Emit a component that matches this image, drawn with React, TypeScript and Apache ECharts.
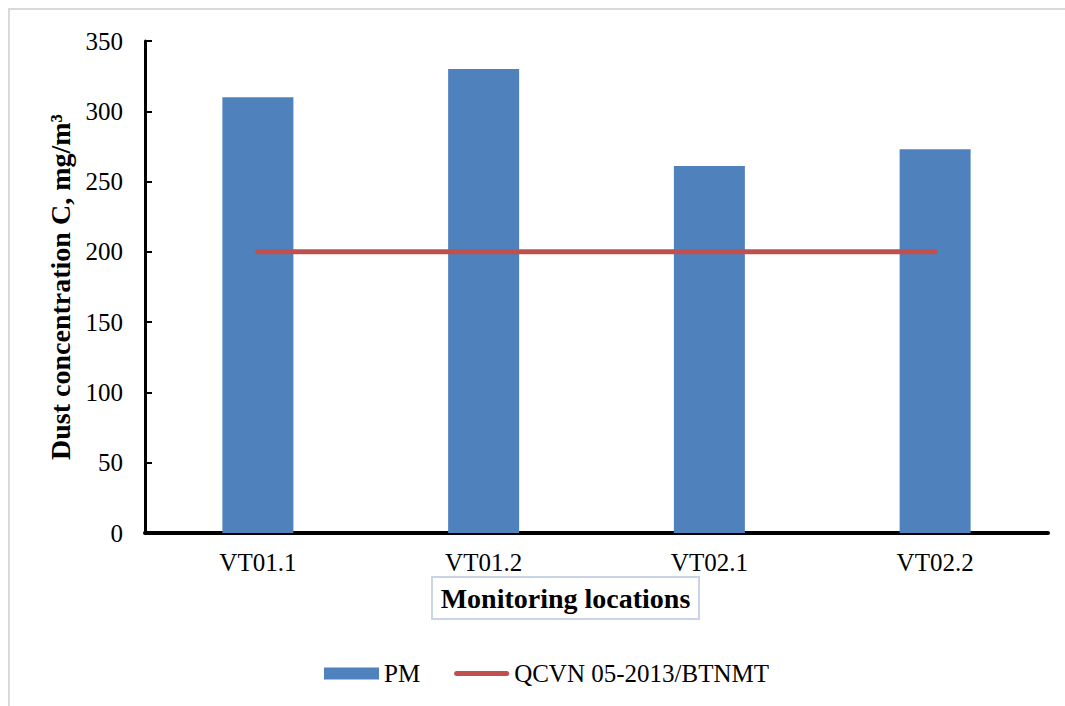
import React, { useEffect, useRef } from "react";
import * as echarts from "echarts";

const categories = ["VT01.1", "VT01.2", "VT02.1", "VT02.2"];
const pmValues = [310, 330, 261, 273];
const standardValues = [200, 200, 200, 200];
const seriesNames = ["PM", "QCVN 05-2013/BTNMT"];

const FONT = "'Liberation Serif', 'Times New Roman', serif";
const LINE_ICON = "path://M2.5,0 L52.5,0 A2.5,2.5 0 0 1 52.5,5 L2.5,5 A2.5,2.5 0 0 1 2.5,0 Z";

export default function App() {
  const ref = useRef<HTMLDivElement>(null);
  useEffect(() => {
    document.body.style.margin = "0";
    const chart = echarts.init(ref.current!, null, { renderer: "svg" });
    chart.setOption({
      animation: false,
      backgroundColor: "#ffffff",
      textStyle: { fontFamily: FONT, color: "#000" },
      grid: { left: 145, right: 17, top: 41, bottom: 173, containLabel: false },
      legend: {
        left: 324,
        top: 661,
        padding: 0,
        itemWidth: 55,
        itemHeight: 12,
        itemGap: 34,
        textStyle: { fontFamily: FONT, fontSize: 25, color: "#000" },
        data: [
          { name: seriesNames[0], icon: "rect" },
          { name: seriesNames[1], icon: LINE_ICON },
        ],
      },
      xAxis: {
        type: "category",
        data: categories,
        axisLine: { lineStyle: { color: "#000", width: 4 } },
        axisTick: { show: false },
        axisLabel: { fontFamily: FONT, fontSize: 25, color: "#000", margin: 17 },
      },
      yAxis: {
        type: "value",
        min: 0,
        max: 350,
        interval: 50,
        name: "Dust concentration C, mg/m³",
        nameLocation: "middle",
        nameGap: 69,
        nameTextStyle: { fontFamily: FONT, fontSize: 28, fontWeight: "bold", color: "#000" },
        axisLine: { show: true, lineStyle: { color: "#000", width: 3 } },
        axisTick: { show: true, inside: true, length: 7, lineStyle: { color: "#000", width: 2 } },
        splitLine: { show: false },
        axisLabel: { fontFamily: FONT, fontSize: 25, color: "#000", margin: 22 },
      },
      series: [
        {
          name: seriesNames[0],
          type: "bar",
          data: pmValues,
          barWidth: 71,
          itemStyle: { color: "#4F81BD" },
        },
        {
          name: seriesNames[1],
          type: "line",
          data: standardValues,
          symbol: "none",
          lineStyle: { color: "#C0504D", width: 5, cap: "round" },
          itemStyle: { color: "#C0504D" },
        },
      ],
      graphic: [
        {
          type: "rect",
          shape: { x: 9, y: 9, width: 1100, height: 800 },
          style: { fill: "none", stroke: "#D9D9D9", lineWidth: 2 },
          silent: true,
        },
        {
          type: "rect",
          shape: { x: 432, y: 577, width: 267, height: 42 },
          style: { fill: "#fff", stroke: "#C9D5E5", lineWidth: 2 },
          silent: true,
        },
        {
          type: "text",
          x: 565.5,
          y: 598,
          style: {
            text: "Monitoring locations",
            font: "bold 28px " + FONT,
            fill: "#000",
            align: "center",
            verticalAlign: "middle",
          },
          silent: true,
        },
      ],
    });
    return () => chart.dispose();
  }, []);
  return <div ref={ref} style={{ width: 1065, height: 706 }} />;
}
